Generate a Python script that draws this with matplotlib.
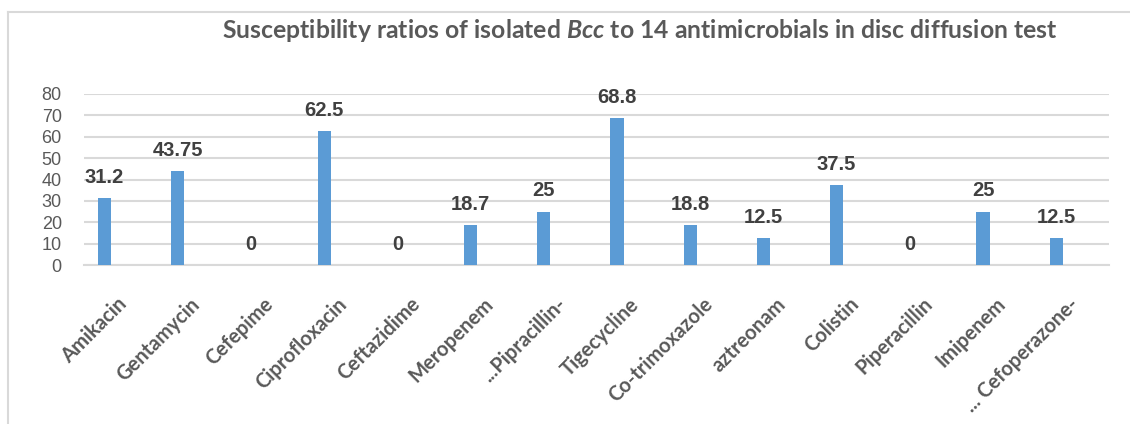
import matplotlib
matplotlib.use("Agg")
import matplotlib.pyplot as plt
import matplotlib.transforms as mtransforms
import numpy as np

# Data
drugs = ["Amikacin", "Gentamycin", "Cefepime", "Ciprofloxacin", "Ceftazidime",
         "Meropenem", "...Pipracillin-", "Tigecycline", "Co-trimoxazole",
         "aztreonam", "Colistin", "Piperacillin", "Imipenem", "... Cefoperazone-"]
ratios = [31.2, 43.75, 0, 62.5, 0, 18.7, 25, 68.8, 18.8, 12.5, 37.5, 0, 25, 12.5]
value_labels = ["31.2", "43.75", "0", "62.5", "0", "18.7", "25", "68.8",
                "18.8", "12.5", "37.5", "0", "25", "12.5"]
y_ticks = [0, 10, 20, 30, 40, 50, 60, 70, 80]

BAR_COLOR = "#5B9BD5"
GRID_COLOR = "#D9D9D9"
TEXT_GRAY = "#595959"

plt.rcParams["mathtext.fontset"] = "custom"
plt.rcParams["mathtext.rm"] = "Lato:bold"
plt.rcParams["mathtext.it"] = "Lato:italic:bold"

fig = plt.figure(figsize=(11.3, 4.24), dpi=100)
fig.patch.set_facecolor("white")

# outer chart frame (light gray)
fig.add_artist(plt.Line2D([8 / 1130, 8 / 1130], [0, 1 - 12 / 424],
                          transform=fig.transFigure, color=GRID_COLOR, lw=1.5))
fig.add_artist(plt.Line2D([8 / 1130, 1], [1 - 12 / 424, 1 - 12 / 424],
                          transform=fig.transFigure, color=GRID_COLOR, lw=1.5))

ax = fig.add_axes([84 / 1130, 1 - 265 / 424, 1025 / 1130, 171 / 424])

x = np.arange(len(drugs))
bar_x = x - 0.22
ax.bar(bar_x, ratios, width=0.18, color=BAR_COLOR, zorder=3)

for bx, v, lab in zip(bar_x, ratios, value_labels):
    ax.annotate(lab, (bx, v), xytext=(0, 8), textcoords="offset points",
                ha="center", va="bottom", fontsize=14.5, fontweight="bold",
                color="#404040", family="Liberation Sans", zorder=4)

ax.set_xlim(-0.5, len(drugs) - 0.5)
ax.set_ylim(0, 80)
ax.set_yticks(y_ticks)
ax.yaxis.grid(True, color=GRID_COLOR, lw=1.5, zorder=0)
ax.set_axisbelow(True)

for s in ["top", "right", "left"]:
    ax.spines[s].set_visible(False)
ax.spines["bottom"].set_color(GRID_COLOR)
ax.spines["bottom"].set_linewidth(1.5)

ax.tick_params(axis="y", length=0, pad=16, labelsize=13, labelcolor=TEXT_GRAY)
for t in ax.get_yticklabels():
    t.set_family("Liberation Sans")

ax.set_xticks(x)
ax.set_xticklabels(drugs, rotation=45, ha="right", rotation_mode="anchor",
                   fontsize=14.5, fontweight="bold", color=TEXT_GRAY, family="Lato")
ax.tick_params(axis="x", length=0, pad=21)
offset = mtransforms.ScaledTranslation(-4 / 100, 0, fig.dpi_scale_trans)
for t in ax.get_xticklabels():
    t.set_transform(t.get_transform() + offset)

fig.text(640 / 1130, 1 - 31 / 424,
         r"Susceptibility ratios of isolated $\mathit{Bcc}$ to 14 antimicrobials in disc diffusion test",
         ha="center", va="center", fontsize=17.8, fontweight="bold", color=TEXT_GRAY,
         family="Lato")

fig.savefig("out.png", dpi=100, facecolor="white")
